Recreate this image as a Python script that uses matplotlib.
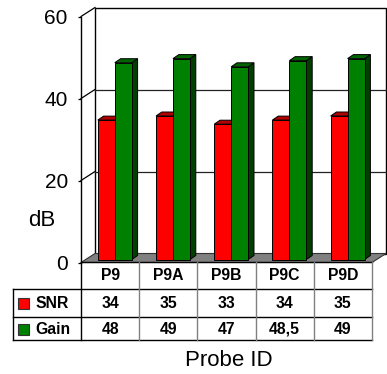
import matplotlib
matplotlib.use("Agg")
import matplotlib.pyplot as plt
from matplotlib.patches import Polygon, Rectangle
import numpy as np

plt.rcParams['font.family'] = ['Liberation Sans', 'DejaVu Sans']

probes = ["P9", "P9A", "P9B", "P9C", "P9D"]
snr = [34, 35, 33, 34, 35]
gain = [48, 49, 47, 48.5, 49]
gain_labels = ["48", "49", "47", "48,5", "49"]
yticks = [0, 20, 40, 60]

red, red_top = "#ff0000", "#b00000"
green, green_top, green_side = "#008000", "#006400", "#003f00"

W, H = 387, 374
fig = plt.figure(figsize=(W / 100, H / 100), dpi=100)
fig.patch.set_facecolor("white")

# front plane of the chart
ax = fig.add_axes([81 / W, (H - 262.5) / H, 291 / W, 246 / H])
ax.set_xlim(-0.5, 4.5)
ax.set_ylim(0, 60)
ax.set_facecolor("none")
for s in ["top", "right", "bottom"]:
    ax.spines[s].set_visible(False)
ax.spines["left"].set_linewidth(1.0)
ax.set_xticks([])
ax.set_yticks(yticks)
ax.tick_params(axis="y", length=2.5, width=0.9, pad=7, labelsize=15)
ax.set_ylabel("dB", rotation=0, fontsize=16, ha="center", va="center")
ax.yaxis.set_label_coords(-0.136, 0.171)

# pixel -> data scale
sx = 291 / 5.0
sy = 246 / 60.0
wdx, wdy = 14 / sx, 9 / sy          # wall depth
b0 = (4.7 / sx, 3 / sy)             # bar front depth
b1 = (10.5 / sx, 7 / sy)            # bar back depth
bw = 17 / sx

def poly(pts, fc, ec="black", lw=0.7, z=1):
    ax.add_patch(Polygon(pts, closed=True, facecolor=fc, edgecolor=ec,
                         linewidth=lw, clip_on=False, zorder=z))

x0, x1 = -0.5, 4.5
# back wall
poly([(x0 + wdx, wdy), (x1 + wdx, wdy), (x1 + wdx, 60 + wdy), (x0 + wdx, 60 + wdy)],
     "white", lw=1.0, z=1)
for t in yticks[1:-1]:
    ax.plot([x0 + wdx, x1 + wdx], [t + wdy, t + wdy], color="#222222", lw=0.9,
            clip_on=False, zorder=2)
# left wall diagonals
for t in yticks[1:]:
    ax.plot([x0, x0 + wdx], [t, t + wdy], color="black", lw=0.9, clip_on=False, zorder=2)
# floor
poly([(x0, 0), (x1, 0), (x1 + wdx, wdy), (x0 + wdx, wdy)], "#808080", ec="#333333",
     lw=0.8, z=2)

def bar3d(xl, v, front, top, side):
    xr = xl + bw
    fx, fy = b0
    dx, dy = b1[0] - b0[0], b1[1] - b0[1]
    poly([(xr + fx, fy), (xr + fx + dx, fy + dy), (xr + fx + dx, v + fy + dy), (xr + fx, v + fy)],
         side, z=3)
    poly([(xl + fx, v + fy), (xr + fx, v + fy), (xr + fx + dx, v + fy + dy), (xl + fx + dx, v + fy + dy)],
         top, z=3)
    poly([(xl + fx, fy), (xr + fx, fy), (xr + fx, v + fy), (xl + fx, v + fy)], front, z=3)

for i in range(len(probes)):
    bar3d(i - bw, snr[i], red, red_top, "#800000")
    bar3d(i, gain[i], green, green_top, green_side)

# data table
lx = 68 / sx
tx = fig.add_axes([13 / W, (H - 340) / H, 359 / W, 78 / H])
tx.set_xlim(-0.5 - lx, 4.5)
tx.set_ylim(78, 0)
tx.axis("off")
rows = [0, 27, 55, 78]
grey = "#808080"
tx.plot([-0.5, 4.5], [0, 0], color="black", lw=1.0, clip_on=False)
for r in rows[1:]:
    tx.plot([-0.5 - lx, 4.5], [r, r], color="black", lw=1.0, clip_on=False)
tx.plot([-0.5, -0.5], [0, 78], color="black", lw=1.0, clip_on=False)
tx.plot([-0.5 - lx, -0.5 - lx], [27, 78], color="black", lw=1.0, clip_on=False)
for k in range(1, 6):
    tx.plot([k - 0.5, k - 0.5], [0, 78], color=grey, lw=1.0, clip_on=False)

fs = 11.3
for i, p in enumerate(probes):
    tx.text(i, 13.8, p, ha="center", va="center", fontsize=fs, fontweight="bold")
    tx.text(i, 41.5, str(snr[i]), ha="center", va="center", fontsize=fs, fontweight="bold")
    tx.text(i, 67, gain_labels[i], ha="center", va="center", fontsize=fs, fontweight="bold")

kx = -0.5 - lx + 5 / sx
for (yc, name, c) in [(41.5, "SNR", red), (67, "Gain", green)]:
    tx.add_patch(Rectangle((kx, yc - 5.5), 11 / sx, 11, facecolor=c, edgecolor="#333333",
                           linewidth=0.8, clip_on=False))
    tx.text(-0.5 - lx + 22 / sx, yc, name, ha="left", va="center", fontsize=fs,
            fontweight="bold")

fig.text(229 / W, 1 - 360.5 / H, "Probe ID", ha="center", va="center", fontsize=16)

fig.savefig("out.png", dpi=100, facecolor="white")
